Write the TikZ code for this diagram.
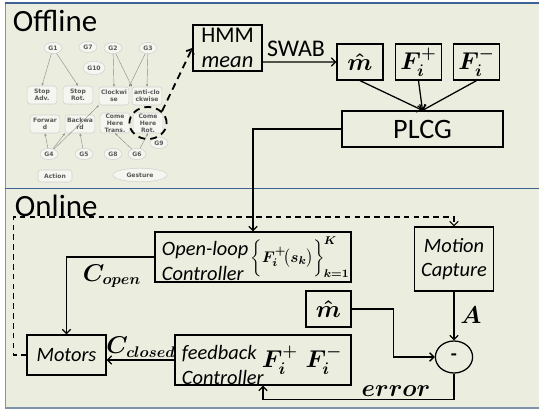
\documentclass[tikz,border=0pt]{standalone}
\usepackage{amsmath}
\usepackage{fontspec}
\setmainfont{Carlito}
\newfontfamily\gfont{DejaVu Sans}
\usetikzlibrary{arrows.meta}
\usetikzlibrary{shapes.geometric}
\definecolor{panelbg}{HTML}{EBEEDF}
\definecolor{framebl}{HTML}{3F6296}
\definecolor{framegr}{HTML}{7F93AA}
\tikzset{box/.style={draw,line width=0.9pt,inner sep=0pt},
 big/.style={font=\fontsize{16}{17.5}\selectfont},
 bigit/.style={font=\itshape\fontsize{14.5}{17.5}\selectfont},
 sym/.style={font=\boldmath\fontsize{17}{19}\selectfont},
 arr/.style={draw,line width=0.9pt,-{Straight Barb[length=3pt,width=6pt]}},
 dashloop/.style={draw,line width=0.8pt,dash pattern=on 4pt off 3pt,-{Straight Barb[length=3pt,width=6pt]}},
 gnode/.style={ellipse,draw=black!18,fill=panelbg!50!white,text=black!65,
   font=\gfont\bfseries\fontsize{4.3}{5}\selectfont,inner sep=0.5pt,
   minimum width=0.45cm,minimum height=0.28cm},
 gbox/.style={rounded corners=2pt,draw=black!18,fill=panelbg!50!white,text=black!65,
   font=\gfont\bfseries\fontsize{4.3}{5}\selectfont,align=center,inner sep=0.5pt,
   minimum width=0.74cm,minimum height=0.45cm},
 garr/.style={draw=black!45,line width=0.3pt,-{Stealth[length=2pt,width=1.6pt]}},
 }

\begin{document}
\begin{tikzpicture}[x=0.025cm,y=-0.025cm]
        \useasboundingbox (0,0) rectangle (540,412);
        % panels
        \fill[panelbg] (5,3) rectangle (539,408);
        \draw[framegr,line width=0.6pt] (5,3) -- (5,408);
        \draw[framegr,line width=0.8pt] (5,408) -- (539,408);
        \draw[framebl,line width=1.2pt] (5,3) -- (539,3);
        \draw[framebl,line width=0.7pt] (5,188) -- (539,188);
        \node[anchor=base west,font=\fontsize{22}{24}\selectfont] (offline) at (8,32) {Offline};
        \node[anchor=base west,font=\fontsize{22}{24}\selectfont] (online) at (10,217) {Online};

        % gesture graph
        \node[gnode] (g1) at (53,48) {G1};
        \node[gnode] (g7) at (88,47) {G7};
        \node[gnode] (g2) at (113,48) {G2};
        \node[gnode] (g3) at (148,48) {G3};
        \node[gnode,minimum width=0.55cm,minimum height=0.34cm] (g10) at (94,68) {G10};
        \node[gbox] (stopadv) at (42,95) {Stop\\Adv.};
        \node[gbox] (stoprot) at (78,95) {Stop\\Rot.};
        \node[gbox] (cw) at (114,96) {Clockwi\\se};
        \node[gbox] (acw) at (147,96) {anti-clo\\ckwise};
        \node[gbox] (fwd) at (45,124) {Forwar\\d};
        \node[gbox] (bwd) at (80,124) {Backwa\\rd};
        \node[gbox] (heretr) at (115,123) {Come\\Here\\Trans.};
        \node[gbox] (hererot) at (148,123) {Come\\Here\\Rot.};
        \node[gnode] (g9) at (159,143) {G9};
        \node[gnode] (g4) at (49,154) {G4};
        \node[gnode] (g5) at (84,154) {G5};
        \node[gnode] (g8) at (113,154) {G8};
        \node[gnode] (g6) at (137,154) {G6};
        \node[gbox,minimum height=0.3cm,minimum width=0.85cm] (action) at (55,176) {Action};
        \node[gnode,minimum width=1.35cm,minimum height=0.34cm] (gesture) at (140,175) {Gesture};
        \draw[garr] (g1) -- (stopadv.north);
        \draw[garr] (g1) -- (stoprot.north);
        \draw[garr] (g2) -- (cw.north);
        \draw[garr] (g2) -- (acw.north west);
        \draw[garr] (g3) -- (cw.north east);
        \draw[garr] (g3) -- (acw.north);
        \draw[garr] (g4) -- (fwd.south);
        \draw[garr] (g4) -- (bwd.south west);
        \draw[garr] (g4) -- (cw.south west);
        \draw[garr] (g5) -- (bwd.south);
        \draw[garr] (g6) -- (heretr.south);
        \draw[garr] (g6) -- (hererot.south);
        \node[ellipse,draw,line width=1.3pt,dash pattern=on 5pt off 3.5pt,
              minimum width=0.93cm,minimum height=0.8cm] (sel) at (148,123) {};

        % offline chain
        \node[box,big,align=center,minimum width=1.725cm,minimum height=1.15cm] (hmm) at (227.5,48) {HMM\\\textit{mean}};
        \node[box,sym,minimum width=1.15cm,minimum height=0.9cm] (mhat) at (360,62) {$\hat{m}$};
        \node[box,sym,minimum width=1.15cm,minimum height=0.9cm] (fplus) at (418.5,62) {$F_i^{+}$};
        \node[box,sym,minimum width=1.15cm,minimum height=0.9cm] (fminus) at (476.5,62) {$F_i^{-}$};
        \node[box,font=\fontsize{20}{22}\selectfont,minimum width=4.025cm,minimum height=0.9cm] (plcg) at (422.5,129) {PLCG};
        \node[font=\fontsize{17}{19}\selectfont,anchor=base] (swab) at (296,57) {SWAB};
        \draw[line width=1.3pt,dash pattern=on 5pt off 3.5pt,-{Straight Barb[length=3pt,width=6pt]}] (sel.40) -- (hmm.west);
        \draw[arr] ([yshift=-0.35cm]hmm.east) -- (mhat.west);
        \draw[arr] (mhat.south) -- (plcg.north);
        \draw[arr] (fplus.south) -- (plcg.north);
        \draw[arr] (fminus.south) -- (plcg.north);

        % online loop
        \node[box,minimum width=4.9cm,minimum height=1.25cm] (openloop) at (253,257) {};
        \node[bigit,anchor=west,align=left] (oltext) at (157,261) {Open-loop\\Controller};
        \node[font=\boldmath\fontsize{11}{14}\selectfont,inner sep=0pt,anchor=west] (olform) at (250,257) {$\biggl\{F_i^{+}\!\bigl(s_k\bigr)\biggr\}^{\mkern-2mu K}_{\mkern-2mu k=1}$};
        \node[box,bigit,align=center,minimum width=1.975cm,minimum height=1.6cm] (mocap) at (454,259) {Motion\\Capture};
        \node[box,sym,minimum width=1.125cm,minimum height=0.9cm] (mhat2) at (328.5,309) {$\hat{m}$};
        \node[box,minimum width=4.4cm,minimum height=1.25cm] (feedback) at (263,360) {};
        \node[bigit,anchor=west,align=left] (fbtext) at (177,365) {feedback\\Controller};
        \node[sym] (fbform) at (302,360) {$F_i^{+}\;F_i^{-}$};
        \node[box,bigit,minimum width=1.975cm,minimum height=1cm] (motors) at (66.5,355) {Motors};
        \node[ellipse,draw,line width=0.9pt,minimum width=0.93cm,minimum height=0.8cm,inner sep=0pt,font=\bfseries\fontsize{14}{16}\selectfont] (minus) at (454,357) {-};
        \draw[arr] (plcg.west) -| (openloop.north);
        \draw[arr] (openloop.west) -| (motors.north);
        \draw[arr] (feedback.west) -- (feedback.west -| motors.east);
        \draw[arr] (mocap.south) -- (minus.north);
        \draw[arr] (mhat2.east) -- ++(42,0) |- (minus.west);
        \draw[arr] (minus.south) -- ++(0,26) -| (feedback.south);
        \draw[dashloop] (motors.west) -- ++(-13,0) -- ++(0,-138) -| (mocap.north);
        \node[font=\boldmath\fontsize{16}{18}\selectfont] (copen) at (112,276) {$C_{open}$};
        \node[font=\boldmath\fontsize{16}{18}\selectfont] (cclosed) at (141,347) {$C_{closed}$};
        \node[font=\boldmath\fontsize{16}{18}\selectfont] (alabel) at (471,315) {$A$};
        \node[font=\boldmath\fontsize{17}{19}\selectfont] (errlabel) at (396,391) {$error$};
    \end{tikzpicture}
\end{document}
